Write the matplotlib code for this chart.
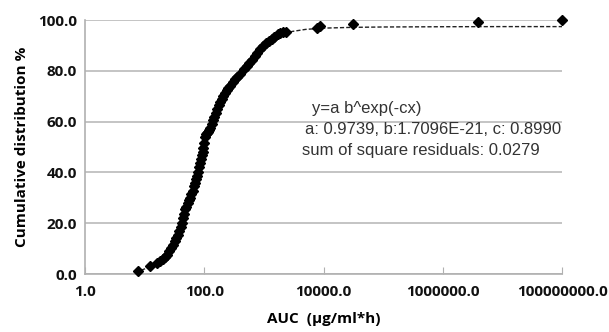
import numpy as np
import matplotlib
matplotlib.use("Agg")
import matplotlib.pyplot as plt

# observed AUC values (ug/ml*h) and cumulative distribution (%)
auc = [7.7, 12.3, 16, 18, 20, 22, 24, 26, 28, 30, 32, 34, 36, 38, 40, 42, 44, 46, 48,
       50, 53, 56, 58, 61, 64, 67, 70, 73, 76, 79, 82, 85, 88, 91, 94, 97, 100,
       104, 108, 112, 117, 122, 127, 133, 140, 148, 156, 165, 175, 185, 196, 208,
       222, 238, 255, 275, 300, 330, 360, 395, 470, 520, 570, 630, 700, 780,
       870, 970, 1080, 1200, 1350, 1500, 1700, 1900, 2100, 2350,
       7800, 8800, 31400, 3.9e6, 1e8]
cum = [1.2, 3.1, 4.3, 5.0, 5.8, 6.6, 7.6, 9.0, 10.2, 11.5, 12.8, 14.0, 15.4, 17.0,
       18.6, 20.2, 22.0, 23.8, 25.4, 26.5, 28.0, 29.3, 30.0, 31.6, 32.8, 34.5,
       36.0, 37.4, 38.4, 40.0, 42.0, 43.7, 45.4, 46.8, 48.2, 49.8, 51.6, 53.8,
       55.0, 55.6, 56.0, 56.6, 57.6, 59.0, 60.5, 62.0, 63.5, 64.8, 66.4, 67.8,
       69.0, 70.2, 71.3, 72.3, 73.2, 74.2, 75.4, 76.6, 77.6, 78.7, 80.8, 81.8,
       83.0, 84.4, 85.8, 87.2, 88.5, 89.8, 90.8, 91.7, 92.6, 93.5, 94.3, 94.9,
       95.2, 95.4, 97.0, 97.6, 98.4, 99.2, 100.0]

# fitted curve
fit_auc = [7, 10, 15, 20, 30, 40, 50, 70, 100, 150, 200, 300, 500, 700, 1000,
           1500, 2000, 3000, 5000, 1e4, 3e4, 1e5, 1e6, 1e7, 1e8]
fit_cum = [0.6, 2.0, 4.0, 5.8, 11.5, 18.6, 26.5, 36.0, 50.0, 61.5, 68.8, 75.4,
           81.5, 85.6, 89.6, 93.0, 94.4, 95.5, 96.3, 96.8, 97.1, 97.25, 97.35,
           97.4, 97.4]

xticks = [1, 1e2, 1e4, 1e6, 1e8]
xtick_labels = ["1.0", "100.0", "10000.0", "1000000.0", "100000000.0"]
yticks = [0, 20, 40, 60, 80, 100]
ytick_labels = ["0.0", "20.0", "40.0", "60.0", "80.0", "100.0"]

fig = plt.figure(figsize=(6.09, 3.32), dpi=100)
ax = fig.add_axes([85/609, 1-274/332, 477/609, 254/332])

ax.plot(fit_auc, fit_cum, ls=(0, (3, 1.5)), color="#222222", lw=1.0, zorder=2)
ax.plot(auc, cum, ls="none", marker="D", ms=5, color="black", zorder=3, clip_on=False)

ax.set_xscale("log")
ax.set_xlim(1, 1e8)
ax.set_ylim(0, 100)
ax.set_xticks(xticks)
ax.set_xticklabels(xtick_labels)
ax.minorticks_off()
ax.set_yticks(yticks)
ax.set_yticklabels(ytick_labels)

ax.grid(axis="y", color="#c4c4c4", lw=1.4)
ax.set_axisbelow(True)
for s in ["top", "right"]:
    ax.spines[s].set_visible(False)
for s in ["left", "bottom"]:
    ax.spines[s].set_color("#b0b0b0")
    ax.spines[s].set_linewidth(1.2)

ax.tick_params(axis="x", direction="in", length=5, color="#b0b0b0", pad=8)
ax.tick_params(axis="y", length=0, pad=6)
for lab in ax.get_xticklabels() + ax.get_yticklabels():
    lab.set_fontfamily("Open Sans")
    lab.set_fontweight("bold")
    lab.set_fontsize(11)
    lab.set_color("#111111")

ax.set_xlabel("AUC  (μg/ml*h)", fontfamily="Open Sans", fontweight="bold", fontsize=11, labelpad=9)
ax.set_ylabel("Cumulative distribution %", fontfamily="Open Sans", fontweight="bold", fontsize=11, labelpad=6)

txt = dict(fontfamily="Liberation Sans", fontsize=12, color="#333333", va="center")
fig.text(312/609, 1-108/332, "y=a b^exp(-cx)", **txt)
fig.text(305/609, 1-130/332, "a: 0.9739, b:1.7096E-21, c: 0.8990", **txt)
fig.text(302/609, 1-151/332, "sum of square residuals: 0.0279", **txt)

fig.savefig("out.png", dpi=100)
